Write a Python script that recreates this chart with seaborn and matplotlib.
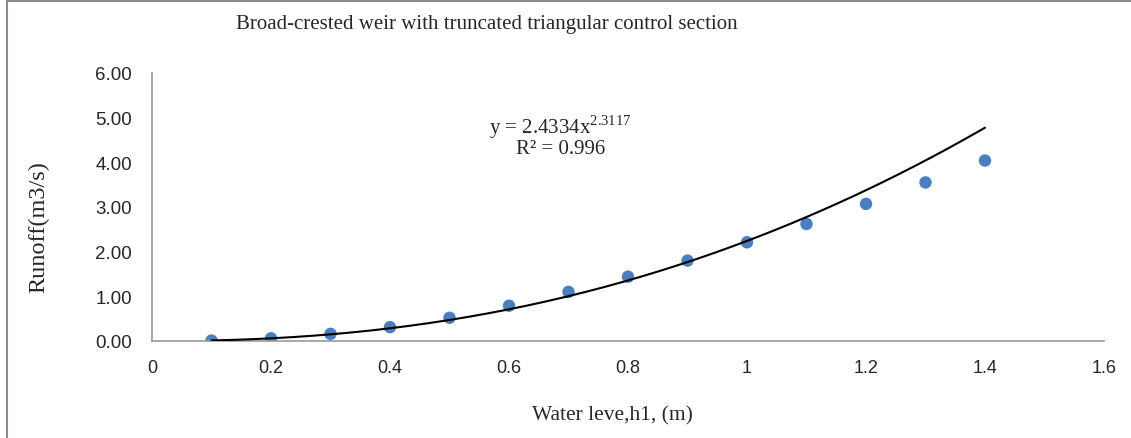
import matplotlib
matplotlib.use('Agg')
import matplotlib.pyplot as plt
import numpy as np
import pandas as pd
import seaborn as sns
from matplotlib.patches import Rectangle

# measured points
water_level = [0.1, 0.2, 0.3, 0.4, 0.5, 0.6, 0.7, 0.8, 0.9, 1.0, 1.1, 1.2, 1.3, 1.4]
runoff = [0.01, 0.06, 0.16, 0.31, 0.52, 0.79, 1.10, 1.44, 1.80, 2.21, 2.62, 3.07, 3.55, 4.04]

# power trendline as drawn in the picture
trend_a = 2.24
trend_b = 2.25

x_ticks = [0, 0.2, 0.4, 0.6, 0.8, 1, 1.2, 1.4, 1.6]
x_tick_labels = ['0', '0.2', '0.4', '0.6', '0.8', '1', '1.2', '1.4', '1.6']
y_ticks = [0, 1, 2, 3, 4, 5, 6]
y_tick_labels = ['0.00', '1.00', '2.00', '3.00', '4.00', '5.00', '6.00']

df = pd.DataFrame({'h1': water_level, 'Q': runoff})
xs = np.linspace(water_level[0], water_level[-1], 200)
trend = pd.DataFrame({'h1': xs, 'Q': trend_a * xs ** trend_b})

sns.set_style('white')
serif = ['Liberation Serif', 'DejaVu Serif']
sans = ['Liberation Sans', 'DejaVu Sans']

fig = plt.figure(figsize=(11.31, 4.39), dpi=100)
ax = fig.add_axes([152 / 1131, 97 / 439, 952 / 1131, 268 / 439])

sns.lineplot(data=trend, x='h1', y='Q', color='black', linewidth=1.5, ax=ax, zorder=3)
sns.scatterplot(data=df, x='h1', y='Q', color='#4a7ebf', s=80, edgecolor='none', ax=ax, zorder=2)

ax.set_xlim(0, 1.6)
ax.set_ylim(0, 6)
ax.set_xticks(x_ticks)
ax.set_xticklabels(x_tick_labels, family=sans, fontsize=13)
ax.set_yticks(y_ticks)
ax.set_yticklabels(y_tick_labels, family=sans, fontsize=13.5)
ax.tick_params(length=0)
ax.tick_params(axis='x', pad=13)
ax.tick_params(axis='y', pad=14.5)

for side in ['top', 'right']:
    ax.spines[side].set_visible(False)
for side in ['left', 'bottom']:
    ax.spines[side].set_color('#999999')
    ax.spines[side].set_linewidth(1.2)

ax.set_xlabel('Water leve,h1, (m)', family=serif, fontsize=15.5)
ax.set_ylabel('Runoff(m3/s)', family=serif, fontsize=17.5)
ax.xaxis.set_label_coords(0.484, -0.24)
ax.yaxis.set_label_coords(-0.108, 0.43)

ax.text(0.686, 4.82, r'y = 2.4334x$^{\mathregular{2.3117}}$', family=serif, fontsize=15,
        ha='center', va='center')
ax.text(0.686, 4.30, 'R² = 0.996', family=serif, fontsize=15, ha='center', va='center')

fig.text(487 / 1131, 1 - 25 / 439, 'Broad-crested weir with truncated triangular control section',
         family=serif, fontsize=15, ha='center', va='center')

fig.patches.append(Rectangle((7 / 1131, -0.05), 1.1, 1.05 - 2 / 439, transform=fig.transFigure,
                             fill=False, edgecolor='#8c8c8c', linewidth=1.5))

fig.savefig('out.png', dpi=100)
